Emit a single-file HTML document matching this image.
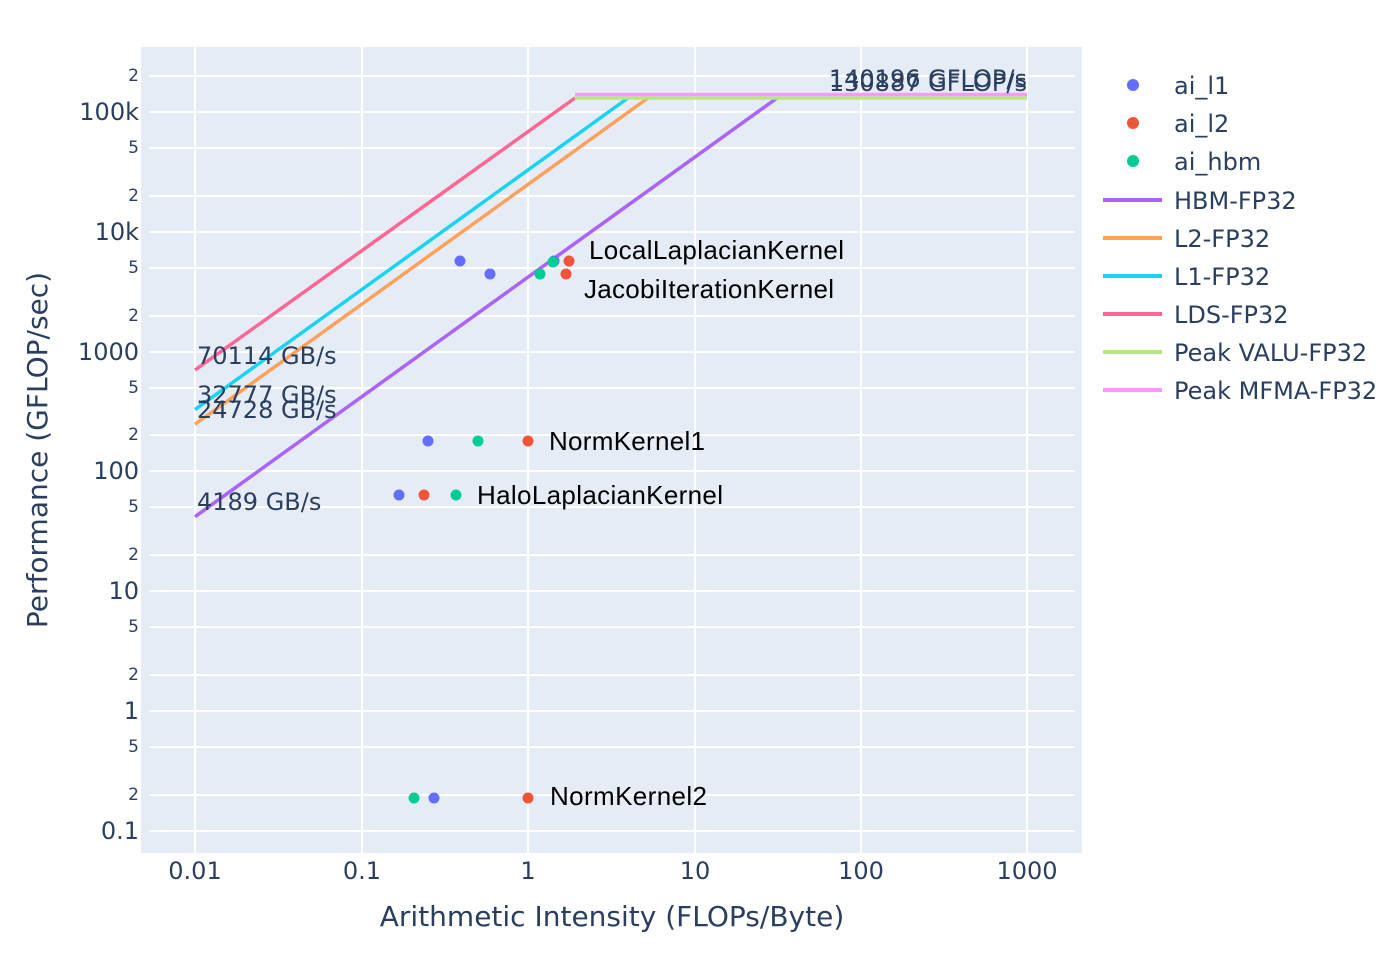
<!DOCTYPE html>
<html><head><meta charset="utf-8"><style>
body{margin:0;background:#fff;}
svg text{font-family:"DejaVu Sans","Liberation Sans",sans-serif;}
svg text.a{font-family:"Liberation Sans","DejaVu Sans",sans-serif;}
</style></head><body>
<svg width="1400" height="966" xmlns="http://www.w3.org/2000/svg">
<rect x="0" y="0" width="1400" height="966" fill="#fff"/>
<rect x="141" y="47" width="941" height="806" fill="#e5ecf6"/>
<g stroke="#fff" stroke-width="2">
<line x1="195" y1="47" x2="195" y2="853"/>
<line x1="362" y1="47" x2="362" y2="853"/>
<line x1="528" y1="47" x2="528" y2="853"/>
<line x1="695" y1="47" x2="695" y2="853"/>
<line x1="861" y1="47" x2="861" y2="853"/>
<line x1="1027" y1="47" x2="1027" y2="853"/>
</g>
<g stroke="#fff" stroke-width="2">
<line x1="149" x2="1075" y1="76" y2="76"/><line x1="149" x2="1075" y1="112" y2="112"/><line x1="149" x2="1075" y1="148" y2="148"/>
<line x1="149" x2="1075" y1="196" y2="196"/><line x1="149" x2="1075" y1="232" y2="232"/><line x1="149" x2="1075" y1="268" y2="268"/>
<line x1="149" x2="1075" y1="316" y2="316"/><line x1="149" x2="1075" y1="352" y2="352"/><line x1="149" x2="1075" y1="388" y2="388"/>
<line x1="149" x2="1075" y1="435" y2="435"/><line x1="149" x2="1075" y1="471" y2="471"/><line x1="149" x2="1075" y1="507" y2="507"/>
<line x1="149" x2="1075" y1="555" y2="555"/><line x1="149" x2="1075" y1="591" y2="591"/><line x1="149" x2="1075" y1="627" y2="627"/>
<line x1="149" x2="1075" y1="675" y2="675"/><line x1="149" x2="1075" y1="711" y2="711"/><line x1="149" x2="1075" y1="747" y2="747"/>
<line x1="149" x2="1075" y1="795" y2="795"/><line x1="149" x2="1075" y1="831" y2="831"/>
</g>
<g stroke-width="3.5" fill="none">
<polyline stroke="#ab63fa" points="195,516.7 777,98"/>
<polyline stroke="#ffa15a" points="195,424.3 648,98"/>
<polyline stroke="#19d3f3" points="195,409.6 628,98"/>
<polyline stroke="#ff6692" points="195,370.1 575,98"/>
<polyline stroke="#b6e880" points="575,98 1027,98"/>
<polyline stroke="#ff97ff" points="575,94.5 1027,94.5"/>
</g>
<g fill="#636efa"><circle cx="460" cy="261" r="5.5"/><circle cx="490" cy="274" r="5.5"/><circle cx="554" cy="261" r="5.5"/><circle cx="428" cy="441" r="5.5"/><circle cx="399" cy="495" r="5.5"/><circle cx="434" cy="798" r="5.5"/></g>
<g fill="#ef553b"><circle cx="569" cy="261" r="5.5"/><circle cx="566" cy="274" r="5.5"/><circle cx="528" cy="441" r="5.5"/><circle cx="424" cy="495" r="5.5"/><circle cx="528" cy="798" r="5.5"/></g>
<g fill="#00cc96"><circle cx="540" cy="274" r="5.5"/><circle cx="553" cy="262" r="5.5"/><circle cx="478" cy="441" r="5.5"/><circle cx="456" cy="495" r="5.5"/><circle cx="414" cy="798" r="5.5"/></g>
<g font-size="26" fill="#000" dominant-baseline="central">
<text class="a" x="589" y="250" textLength="255">LocalLaplacianKernel</text>
<text class="a" x="584" y="289" textLength="250">JacobiIterationKernel</text>
<text class="a" x="549" y="441" textLength="156">NormKernel1</text>
<text class="a" x="477" y="495" textLength="246">HaloLaplacianKernel</text>
<text class="a" x="550" y="796" textLength="157">NormKernel2</text>
</g>
<g font-size="24" fill="#2a3f5f" dominant-baseline="central">
<text x="197" y="356">70114 GB/s</text>
<text x="197" y="395">32777 GB/s</text>
<text x="197" y="410">24728 GB/s</text>
<text x="197" y="502">4189 GB/s</text>
<text x="1027" y="79" text-anchor="end">140196 GFLOP/s</text>
<text x="1027" y="83" text-anchor="end">130887 GFLOP/s</text>
</g>
<g font-size="24" fill="#2a3f5f" text-anchor="end" dominant-baseline="central">
<text x="139" y="112">100k</text><text x="139" y="232">10k</text><text x="139" y="352">1000</text>
<text x="139" y="471">100</text><text x="139" y="591">10</text><text x="139" y="711">1</text><text x="139" y="831">0.1</text>
</g>
<g font-size="17" fill="#2a3f5f" text-anchor="end" dominant-baseline="central">
<text x="139" y="76">2</text><text x="139" y="148">5</text><text x="139" y="196">2</text><text x="139" y="268">5</text>
<text x="139" y="316">2</text><text x="139" y="388">5</text><text x="139" y="435">2</text><text x="139" y="507">5</text>
<text x="139" y="555">2</text><text x="139" y="627">5</text><text x="139" y="675">2</text><text x="139" y="747">5</text><text x="139" y="795">2</text>
</g>
<g font-size="24" fill="#2a3f5f" text-anchor="middle">
<text x="195" y="879">0.01</text><text x="362" y="879">0.1</text><text x="528" y="879">1</text>
<text x="695" y="879">10</text><text x="861" y="879">100</text><text x="1027" y="879">1000</text>
</g>
<text x="612" y="926" font-size="28" fill="#2a3f5f" text-anchor="middle">Arithmetic Intensity (FLOPs/Byte)</text>
<text transform="translate(47,450) rotate(-90)" font-size="28" fill="#2a3f5f" text-anchor="middle">Performance (GFLOP/sec)</text>
<g font-size="24" fill="#2a3f5f" dominant-baseline="central">
<circle cx="1133" cy="85" r="6" fill="#636efa"/><text x="1174" y="86">ai_l1</text>
<circle cx="1133" cy="123" r="6" fill="#ef553b"/><text x="1174" y="124">ai_l2</text>
<circle cx="1133" cy="161" r="6" fill="#00cc96"/><text x="1174" y="162">ai_hbm</text>
<line x1="1103" x2="1162" y1="200" y2="200" stroke="#ab63fa" stroke-width="4"/><text x="1174" y="201">HBM-FP32</text>
<line x1="1103" x2="1162" y1="238" y2="238" stroke="#ffa15a" stroke-width="4"/><text x="1174" y="239">L2-FP32</text>
<line x1="1103" x2="1162" y1="276" y2="276" stroke="#19d3f3" stroke-width="4"/><text x="1174" y="277">L1-FP32</text>
<line x1="1103" x2="1162" y1="314" y2="314" stroke="#ff6692" stroke-width="4"/><text x="1174" y="315">LDS-FP32</text>
<line x1="1103" x2="1162" y1="352" y2="352" stroke="#b6e880" stroke-width="4"/><text x="1174" y="353">Peak VALU-FP32</text>
<line x1="1103" x2="1162" y1="390" y2="390" stroke="#ff97ff" stroke-width="4"/><text x="1174" y="391">Peak MFMA-FP32</text>
</g>
</svg>
</body></html>
